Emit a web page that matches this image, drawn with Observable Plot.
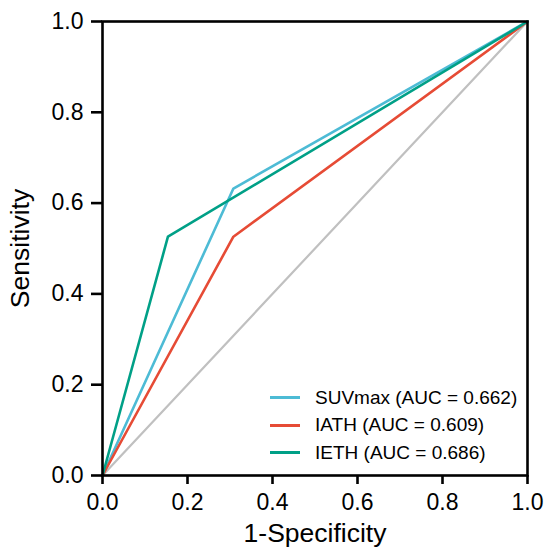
<!DOCTYPE html>
<html>
<head>
<meta charset="utf-8">
<script src="https://cdn.jsdelivr.net/npm/d3@7"></script>
<script src="https://cdn.jsdelivr.net/npm/@observablehq/plot@0.6"></script>
<style>
  html, body { margin: 0; padding: 0; background: #fff; }
  #wrap { position: relative; width: 547px; height: 550px; font-family: "Liberation Sans", Arial, sans-serif; }
  #wrap svg { font-family: "Liberation Sans", Arial, sans-serif; }
  g[aria-label="x-axis tick label"] text, g[aria-label="y-axis tick label"] text { font-size: 23px; fill: #000; }
  g[aria-label="x-axis tick"] path, g[aria-label="y-axis tick"] path { stroke: #000; stroke-width: 2.6px; }
  g[aria-label="x-axis label"] text, g[aria-label="y-axis label"] text { font-size: 26.5px; fill: #000; }
  #legend { position: absolute; left: 270px; top: 384px; font-size: 19px; color: #000; }
  #legend .row { display: flex; align-items: center; height: 27.5px; }
  #legend .key { width: 30px; height: 0; border-top: 3px solid; margin-right: 15px; }
</style>
</head>
<body>
<div id="wrap"></div>
<script>
const seriesNames = ["SUVmax", "IATH", "IETH"];
const seriesAUC = [0.662, 0.609, 0.686];
const seriesColors = ["#4DBBD5", "#E64B35", "#00A087"];
const fpr = {
  SUVmax: [0, 0.308, 1],
  IATH:   [0, 0.308, 1],
  IETH:   [0, 0.154, 1]
};
const tpr = {
  SUVmax: [0, 0.632, 1],
  IATH:   [0, 0.526, 1],
  IETH:   [0, 0.526, 1]
};
const diagX = [0, 1];
const diagY = [0, 1];
const tickValues = [0, 0.2, 0.4, 0.6, 0.8, 1.0];

const rows = [];
seriesNames.forEach(s => fpr[s].forEach((x, i) => rows.push({series: s, x, y: tpr[s][i]})));
const diag = diagX.map((x, i) => ({x, y: diagY[i]}));

const plot = Plot.plot({
  width: 547,
  height: 550,
  marginLeft: 102,
  marginRight: 20,
  marginTop: 21,
  marginBottom: 75,
  x: {domain: [0, 1]},
  y: {domain: [0, 1]},
  color: {domain: seriesNames, range: seriesColors},
  marks: [
    Plot.line(diag, {x: "x", y: "y", stroke: "#c0c0c0", strokeWidth: 2.2}),
    Plot.line(rows, {x: "x", y: "y", z: "series", stroke: "series", strokeWidth: 2.6}),
    Plot.frame({stroke: "#000", strokeWidth: 2.6}),
    Plot.axisX({ticks: tickValues, tickFormat: d3.format(".1f"), tickSize: 9, tickPadding: 9,
      strokeWidth: 2.6, fontSize: 23, color: "#000", label: "1-Specificity", labelAnchor: "center", labelArrow: "none", labelOffset: 66}),
    Plot.axisY({ticks: tickValues, tickFormat: d3.format(".1f"), tickSize: 11, tickPadding: 8,
      strokeWidth: 2.6, fontSize: 23, color: "#000", label: "Sensitivity", labelAnchor: "center", labelArrow: "none", labelOffset: 92})
  ]
});
const wrap = document.getElementById("wrap");
wrap.appendChild(plot);

const legend = document.createElement("div");
legend.id = "legend";
seriesNames.forEach((s, i) => {
  const row = document.createElement("div");
  row.className = "row";
  const key = document.createElement("span");
  key.className = "key";
  key.style.borderTopColor = seriesColors[i];
  const label = document.createElement("span");
  label.textContent = `${s} (AUC = ${seriesAUC[i].toFixed(3)})`;
  row.appendChild(key);
  row.appendChild(label);
  legend.appendChild(row);
});
wrap.appendChild(legend);
</script>
</body>
</html>
